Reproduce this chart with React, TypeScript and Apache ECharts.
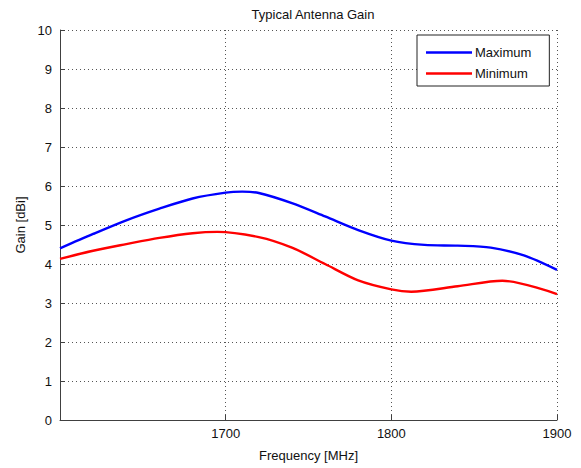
import React, { useEffect, useRef } from "react";
import * as echarts from "echarts";

const maxFreqs = [1600, 1620, 1640, 1660, 1680, 1700, 1710, 1720, 1740, 1760, 1780, 1800, 1820, 1840, 1860, 1880, 1900];
const maxGain = [4.40, 4.77, 5.12, 5.42, 5.68, 5.83, 5.855, 5.82, 5.56, 5.22, 4.87, 4.60, 4.49, 4.47, 4.42, 4.22, 3.85];
const minFreqs = [1600, 1620, 1640, 1660, 1680, 1695, 1720, 1740, 1760, 1780, 1800, 1812, 1840, 1867, 1900];
const minGain = [4.13, 4.34, 4.51, 4.67, 4.79, 4.825, 4.69, 4.42, 4.00, 3.58, 3.35, 3.29, 3.43, 3.57, 3.23];
const seriesNames = ["Maximum", "Minimum"];
const title = "Typical Antenna Gain";
const xName = "Frequency [MHz]";
const yName = "Gain [dBi]";

const FONT = "'Liberation Sans', Arial, sans-serif";

export default function App() {
  const ref = useRef<HTMLDivElement>(null);
  useEffect(() => {
    if (!ref.current) return;
    const chart = echarts.init(ref.current, undefined, { renderer: "svg" });
    const gridLine = { show: true, lineStyle: { color: "#555", type: [1, 3] as any, width: 1 } };
    const axisLine = { show: true, lineStyle: { color: "#404040", width: 1 } };
    chart.setOption({
      animation: false,
      backgroundColor: "#fff",
      textStyle: { fontFamily: FONT },
      title: {
        text: title,
        left: 308,
        textAlign: "center",
        top: 3,
        textStyle: { fontSize: 13, fontWeight: "normal", color: "#111", fontFamily: FONT },
      },
      legend: {
        orient: "vertical",
        left: 417,
        top: 35,
        data: seriesNames,
        icon: "path://M0,0 L46,0 L46,2.4 L0,2.4 Z",
        itemWidth: 46,
        itemHeight: 14,
        itemGap: 8,
        borderColor: "#222",
        borderWidth: 1,
        backgroundColor: "#fff",
        padding: [11, 18, 6, 9],
        textStyle: { fontSize: 13, color: "#111", fontFamily: FONT, padding: [0, 0, 0, -2] },
      },
      grid: { left: 60, right: 24, top: 30, bottom: 48, containLabel: false },
      xAxis: {
        type: "value",
        min: 1600,
        max: 1900,
        interval: 100,
        name: xName,
        nameLocation: "middle",
        nameGap: 29,
        nameTextStyle: { fontSize: 13, color: "#111", fontFamily: FONT },
        axisLine,
        axisTick: { show: true, inside: true, length: 5, lineStyle: { color: "#404040" } },
        axisLabel: {
          showMinLabel: false,
          fontSize: 13,
          color: "#111",
          margin: 7,
          fontFamily: FONT,
          formatter: (v: number) => String(v),
        },
        splitLine: gridLine,
      },
      yAxis: {
        type: "value",
        min: 0,
        max: 10,
        interval: 1,
        name: yName,
        nameLocation: "middle",
        nameGap: 33,
        nameTextStyle: { fontSize: 13, color: "#111", fontFamily: FONT },
        axisLine,
        axisTick: { show: true, inside: true, length: 5, lineStyle: { color: "#404040" } },
        axisLabel: { fontSize: 13, color: "#111", margin: 8, fontFamily: FONT },
        splitLine: gridLine,
      },
      series: [
        {
          name: seriesNames[0],
          type: "line",
          data: maxFreqs.map((f, i) => [f, maxGain[i]]),
          smooth: 0.3,
          showSymbol: false,
          lineStyle: { color: "#0000ff", width: 2.4 },
          itemStyle: { color: "#0000ff" },
        },
        {
          name: seriesNames[1],
          type: "line",
          data: minFreqs.map((f, i) => [f, minGain[i]]),
          smooth: 0.3,
          showSymbol: false,
          lineStyle: { color: "#ff0000", width: 2.4 },
          itemStyle: { color: "#ff0000" },
        },
      ],
    });
    return () => chart.dispose();
  }, []);
  return (
    <div
      ref={ref}
      style={{ position: "fixed", left: 0, top: 0, width: 581, height: 468, background: "#fff" }}
    />
  );
}
